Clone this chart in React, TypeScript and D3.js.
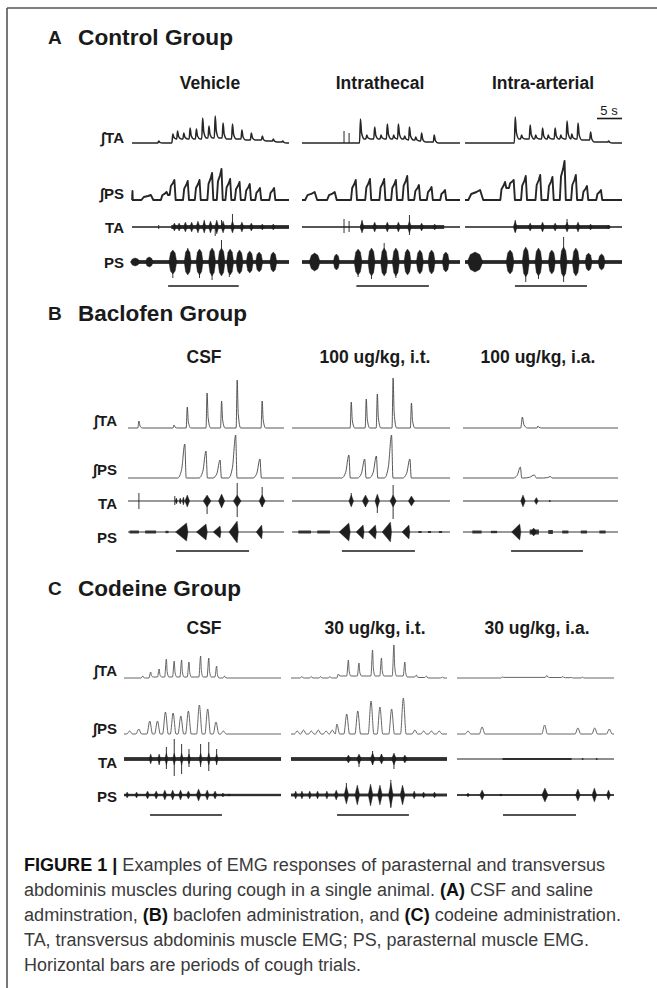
import React from 'react';
import * as d3 from 'd3';

// ---------- text content ----------
const groupLetters = ['A', 'B', 'C'];
const groupTitles = ['Control Group', 'Baclofen Group', 'Codeine Group'];
const colTitlesA = ['Vehicle', 'Intrathecal', 'Intra-arterial'];
const colTitlesB = ['CSF', '100 ug/kg, i.t.', '100 ug/kg, i.a.'];
const colTitlesC = ['CSF', '30 ug/kg, i.t.', '30 ug/kg, i.a.'];
const rowLabels = ['\u222BTA', '\u222BPS', 'TA', 'PS'];
const scaleBarLabel = '5 s';

// ---------- data (time 0..100 % of trace, amplitude in a.u.) ----------
// integrated traces: [t, peak, level after, width factor]
const A_intTA = [
  [[17,2,0],[26,9,4],[29,12,4],[33,10,4],[37,15,4],[41,14,4],[45,25,5],[49,17,5],[53,27,5],[58,20,4],[64,19,4],[70,13,3],[76,10,3],[83,7,2],[90,4,1],[96,2,0]],
  [[37,24,4],[41,8,4],[46,16,4],[50,8,4],[54,19,4],[58,8,4],[61,19,4],[65,7,3],[68,16,3],[72,6,2],[75.7,10,1],[83.7,8,0]],
  [[32,26,4],[36,8,4],[41.5,18,4],[45,8,4],[49.4,15,4],[53,8,4],[57.4,15,4],[61,8,4],[65,22,4],[68,9,4],[72,20,3],[80,11,1],[91.5,2,0]],
];
const A_intTA_spikes = [[], [[26.6,12],[29.8,10]], []];
const A_intPS = [
  [[0,9,0,0.6],[12,5,0,2],[22,8,5,1.2],[27,20,0],[35.5,19,0],[43,20,0],[51,27,0],[57,31,0],[62.5,21,0],[68.5,18,0],[75,16,0],[81.5,12,0],[90.5,12,0]],
  [[8,8,0,2],[20.7,8,0,1.6],[34,20,0],[43,21,0],[52,21,0],[59.4,20,0],[66.6,24,0],[74,15,0],[82,13,0],[90.5,10,0]],
  [[9.6,10,0,2.5],[25.5,18,12,1],[31,20,0],[38.7,24,0],[47.9,25,0],[55.7,23,0],[63.4,39,0],[70.6,25,0],[77.7,14,0],[86.6,10,0]],
];
// raw traces: bands [t0, t1, amp], bursts [t, amp, width, skew], spikes [t, value]
const A_TA_bands = [[[25,100,2]], [[37,90,2]], [[32,92,2]]];
const A_TA_bursts = [
  [[27,4],[30,4],[34,5],[38,5],[42,6],[46,6],[50,6],[54,7],[58,6],[64,6],[70,5],[76,4],[83,3],[90,3]],
  [[38,6],[46,5],[54,5],[61,5],[68,6],[75.7,4],[84,3]],
  [[32,6],[41.5,4],[49.4,5],[57.4,4],[65,5],[72,5],[80,3],[91.5,2]],
];
const A_TA_spikes = [
  [[17,2],[17,-2],[53,-9],[57,7],[64,13],[46,7]],
  [[26.6,8],[26.6,-6],[29.8,6],[29.8,-5],[68,12],[68,-8],[38,7]],
  [[32,7],[32,-5],[65,8]],
];
const A_PS_bands = [[[0,100,2]], [[0,100,2]], [[0,100,2]]];
const A_PS_bursts = [
  [[2,4,6],[11,5,5],[26,12,5],[35.5,13],[43,13],[51,14],[57,14],[62.5,13],[68.5,12],[75,11],[81,10],[90,10]],
  [[8,9,7],[21.8,8,4],[35.5,13,5],[44,14],[52,14],[59.4,14],[66.8,13],[74.6,12],[82,12],[91,10]],
  [[6.4,10,10],[28.7,12,5],[38.7,15],[46.8,14],[55.3,12],[62.8,15],[70.6,14],[78.7,9],[87,8]],
];
const A_PS_spikes = [
  [[57,22],[51,-18],[43,-16],[62,-15],[26,-16],[35.5,14]],
  [[52,19],[44,-17],[59.4,-16],[35.5,-15]],
  [[62.8,25],[62.8,-20],[38.7,-20],[46.8,-17]],
];

const B_intTA = [
  [[7,7,0],[29.5,3,0],[38,21,0],[50.7,35,0],[60,27,0],[70,48,0],[86,27,0]],
  [[37.5,26,0],[47,29,0],[54,34,0],[64,50,0],[75.6,25,0]],
  [[38.3,11,0,1.5],[48.4,2,0]],
];
const B_intPS = [
  [[36.4,34,0],[50,27,0],[59,18,0],[69,43,0],[84.6,19,0]],
  [[36,23,0],[46,19,0],[53.4,22,0],[63,43,0],[74.6,19,0]],
  [[37,11,0],[46,3,0,1.5],[56.5,1.5,0]],
];
const B_TA_bands = [[], [], []];
const B_TA_bursts = [
  [[38,6,3],[50.7,6,5],[60,7,4],[70,6,5],[86,6,4],[31,3,1.5],[33.5,3,1.5],[35.5,4,1.5]],
  [[37.5,6,3],[46.5,6,4],[54,7,3],[64,6,4],[75.6,5,4]],
  [[38.7,6,3],[47.3,3.5,2.5],[56,1,1]],
];
const B_TA_spikes = [
  [[7,8],[7,-8],[50.7,-13],[70,18],[70,-16],[86,14],[86,-6],[60,-5],[30,5],[30,-4]],
  [[37.5,8],[46.5,-6],[54,-12],[64,16],[64,-18]],
  [],
];
const B_PS_bands = [
  [[1,7,1.5],[11,18,1.5],[24,26,1.2]],
  [[4,12,1.5],[16,24,1.5],[80,82,1],[86,88,1],[93,95,1]],
  [[6,12,1.5],[18,22,1.2],[43,49,2.5],[55,58,2],[64,68,1.5],[76,80,1.5],[88,92,1.5]],
];
const B_PS_bursts = [
  [[37.5,9,8],[50,8,7],[59,6,5],[70,11,6],[85.7,7,4]],
  [[36,9,7],[45,7,5],[52.8,7,5],[62.3,10,6],[74,7,5]],
  [[36.6,8,6],[45.6,4,4,0.5]],
];
const B_PS_spikes = [[], [], []];

const C_intTA = [
  [[12,2,0],[17,6,1],[22.4,9,1],[27,19,1],[32,17,1],[36.7,18,1],[41.4,16,1],[48.8,22,1],[54,20,1],[59,12,0],[64,2,0]],
  [[7,1.5,0],[13,1.5,0],[19,1.5,0],[25,1.5,0],[30.4,4,2],[36.8,18,2],[43.6,15,2],[52.3,28,2],[58,20,2],[66,33,2],[73,16,1],[80.4,3,0.5],[86.8,2,0],[97,1,0]],
  [[29,1,0.6],[57.3,2.5,0.5],[67.5,1.5,0.3],[73,0.5,0],[80,0.8,0]],
];
const C_intPS = [
  [[3.6,3,0],[9.4,5,0],[16.4,13,0],[21.3,13,0],[26.4,22,0],[31.3,21,0],[36.2,18,0],[41,23,0],[48,29,0],[53.3,25,0],[58.6,12,0],[63.3,3,0]],
  [[4,3,0],[8,4,0],[13,3,0],[17.5,4,0],[22.5,3,0],[26.5,4,0],[29.4,10,0],[35.7,20,0],[42.8,23,0],[51.3,33,0],[57,27,0],[64.5,25,0],[72,36,0],[79.4,4,0],[85,3,0],[90,3,0],[95,3,0]],
  [[7,3,0],[16,7,0],[55.8,9,0],[77,6,0],[87.7,6,0],[97,5,0]],
];
const C_TA_bands = [[[0,100,2]], [[0,100,2]], [[29,73,1]]];
const C_TA_bursts = [
  [[17,5,2],[22.4,5,2],[27,6,2],[32,6,2],[36.7,6,2],[41.4,5,2],[48.8,6,2],[54,6,2],[59,5,2]],
  [[36.8,4,3],[43.6,5,3],[52.3,6,3],[58,5,3],[66,6,3],[73,4,3]],
  [[80,1,1],[89,1,1]],
];
const C_TA_spikes = [
  [[27,12],[27,-10],[32,20],[32,-17],[36.7,15],[36.7,-15],[41.4,10],[41.4,-8],[48.8,15],[48.8,-8],[54,17],[54,-12],[59,10],[59,-6],[22.4,-6]],
  [[43.6,-8],[52.3,8],[52.3,-6],[66,-10],[58,5]],
  [],
];
const C_PS_bands = [[[0,100,1.2]], [[0,100,1.5]], [[0,100,0.8]]];
const C_PS_bursts = [
  [[2,3,2],[8,3,2],[15,4,2.5],[20.5,4,2.5],[26,5,2.5],[31,5,2.5],[36,5,2.5],[41,4,2.5],[47.5,6,3],[53,5,2.5],[58,4,2.5],[63,2,2],[67,1,2]],
  [[3,4,2],[7,4,2],[12,4,2],[17,4,2],[23,4,2],[29,5,2.5],[35.5,9,3],[42.5,10,3],[51,11,3],[57,10,3],[64,12,3],[71.5,10,3],[79,4,2],[85,3,2],[92,3,2]],
  [[7,2,2],[16,5,3],[28,1,2],[56,7,4],[77,6,3],[87.5,7,3],[96.5,5,2.5]],
];
const C_PS_spikes = [[], [[64,15],[64,-13],[35.5,12]], []];

// cough trial bars [t0, t1]
const coughBarsA = [[23, 68], [34.4, 80.3], [31.8, 77.7]];
const coughBarsB = [[30.8, 77.6], [31.6, 77.8], [31, 77.4]];
const coughBarsC = [[16.6, 62.4], [29.5, 75.6], [29.3, 75.8]];

const captionLines = [
  [['FIGURE 1 | ', true], ['Examples of EMG responses of parasternal and transversus', false]],
  [['abdominis muscles during cough in a single animal. ', false], ['(A)', true], [' CSF and saline', false]],
  [['adminstration, ', false], ['(B)', true], [' baclofen administration, and ', false], ['(C)', true], [' codeine administration.', false]],
  [['TA, transversus abdominis muscle EMG; PS, parasternal muscle EMG.', false]],
  [['Horizontal bars are periods of cough trials.', false]],
];

// ---------- layout ----------
const W = 657, H = 988;
const FONT = "'Liberation Sans', Arial, Helvetica, sans-serif";
const NARROW = "'Liberation Sans Narrow', 'Liberation Sans', Arial, sans-serif";

const panels = [
  {
    titleY: 37, titleLen: 155, colTitleY: 83, colTitles: colTitlesA, colCenters: [210, 380, 543],
    labelRight: 124, labelYs: [137, 193, 227, 262], bases: [143, 200, 227, 262],
    cols: [[132, 289], [302, 460], [465, 622]], barY: 286, bars: coughBarsA,
    intTA: A_intTA, intTASp: A_intTA_spikes, intPS: A_intPS,
    TA: [A_TA_bands, A_TA_bursts, A_TA_spikes], PS: [A_PS_bands, A_PS_bursts, A_PS_spikes],
    st: { intColor: '#262626', intW: 1.5, psIntW: 1.9, rawColor: '#1e1e1e', baseW: 1.3, taW: 2.5, psW: 4.5, psSkew: 0.5,
      psShape: 'blob', taRise: 0.6, taFall: 2.4, taMode: 'spike', psRise: 3.0, psFall: 0.8, psMode: 'hump' },
  },
  {
    titleY: 313, titleLen: 169, colTitleY: 357, colTitles: colTitlesB, colCenters: [204, 375, 538],
    labelRight: 117, labelYs: [420, 469, 503, 537], bases: [428, 478, 501, 532],
    cols: [[128, 284], [292, 450], [463, 618]], barY: 551, bars: coughBarsB,
    intTA: B_intTA, intTASp: [[], [], []], intPS: B_intPS,
    TA: [B_TA_bands, B_TA_bursts, B_TA_spikes], PS: [B_PS_bands, B_PS_bursts, B_PS_spikes],
    st: { intColor: '#444', intW: 0.9, psIntW: 0.9, rawColor: '#1e1e1e', baseW: 0.9, taW: 3, psW: 6, psSkew: 0.88,
      psShape: 'diamond', taRise: 0.7, taFall: 2.2, taMode: 'spike', psRise: 4.5, psFall: 0.9, psMode: 'ramp' },
  },
  {
    titleY: 588, titleLen: 163, colTitleY: 628, colTitles: colTitlesC, colCenters: [204, 375, 537],
    labelRight: 117, labelYs: [670, 728, 762, 796], bases: [678, 734, 759, 795],
    cols: [[124, 281], [291, 447], [457, 614]], barY: 815, bars: coughBarsC,
    intTA: C_intTA, intTASp: [[], [], []], intPS: C_intPS,
    TA: [C_TA_bands, C_TA_bursts, C_TA_spikes], PS: [C_PS_bands, C_PS_bursts, C_PS_spikes],
    st: { intColor: '#555', intW: 0.9, psIntW: 0.9, rawColor: '#1e1e1e', baseW: 1, taW: 2, psW: 2.5, psSkew: 0.5,
      psShape: 'diamond', taRise: 1.1, taFall: 1.6, taMode: 'spike', psRise: 1.8, psFall: 1.8, psMode: 'line' },
  },
];

function buildIntPoints(peaks: number[][], rise: number, fall: number, mode: string) {
  const pts: [number, number][] = [[0, 0]];
  let pb = 0;
  const add = (t: number, v: number) => {
    const lt = pts[pts.length - 1][0];
    const tt = Math.min(100, Math.max(t, lt + 0.08));
    if (tt <= lt) return;
    pts.push([tt, v]);
  };
  for (const p of peaks) {
    const [t, h, b = 0, ws = 1] = p;
    if (mode === 'ramp') {
      add(t - rise * ws, pb);
      add(t - rise * ws * 0.45, pb + (h - pb) * 0.25);
      add(t, h);
      add(t + fall * ws, b);
    } else if (mode === 'hump') {
      add(t - rise * ws, pb);
      add(t - rise * ws * 0.75, pb + (h - pb) * 0.6);
      add(t - rise * ws * 0.3, pb + (h - pb) * 0.8);
      add(t, h);
      add(t + fall * ws, b);
    } else if (mode === 'spike') {
      add(t - rise * ws, pb);
      add(t, h);
      add(t + fall * ws * 0.3, b + (h - b) * 0.3);
      add(t + fall * ws, b);
    } else {
      add(t - rise * ws, pb);
      add(t, h);
      add(t + fall * ws, b);
    }
    pb = b;
  }
  add(100, pb);
  return pts;
}

function IntTrace({ peaks, spikes, xr, base, rise, fall, mode, color, width }: any) {
  const xs = d3.scaleLinear().domain([0, 100]).range(xr);
  const ys = d3.scaleLinear().domain([0, 50]).range([base, base - 50]);
  const pts = buildIntPoints(peaks, rise, fall, mode);
  const line = d3.line<[number, number]>().x(d => xs(d[0])).y(d => ys(d[1]))
    .curve(mode === 'hump' ? d3.curveLinear : d3.curveMonotoneX);
  return (
    <g>
      <path d={line(pts) || ''} fill="none" stroke={color} strokeWidth={width} strokeLinejoin="round" />
      {spikes.map((s: number[], i: number) => (
        <line key={i} x1={xs(s[0])} x2={xs(s[0])} y1={ys(0)} y2={ys(s[1])} stroke={color} strokeWidth={Math.min(width, 1)} />
      ))}
    </g>
  );
}

function RawTrace({ bands, bursts, spikes, xr, base, defW, defSkew, shape, color, baseW }: any) {
  const xs = d3.scaleLinear().domain([0, 100]).range(xr);
  const ys = d3.scaleLinear().domain([-50, 50]).range([base + 50, base - 50]);
  const poly = d3.line<[number, number]>().x(d => xs(d[0])).y(d => ys(d[1]));
  return (
    <g>
      <line x1={xs(0)} x2={xs(100)} y1={ys(0)} y2={ys(0)} stroke={color} strokeWidth={baseW} />
      {bands.map((b: number[], i: number) => (
        <rect key={'b' + i} x={xs(b[0])} width={xs(b[1]) - xs(b[0])} y={ys(b[2])} height={ys(-b[2]) - ys(b[2])} fill={color} opacity={0.85} />
      ))}
      {bursts.map((b: number[], i: number) => {
        const [t, a, w = defW, sk = defSkew] = b;
        const l = t - sk * w, r = t + (1 - sk) * w;
        const pts: [number, number][] = shape === 'blob'
          ? [[l, 0], [l + 0.2 * w, a * 0.75], [t, a], [r - 0.2 * w, a * 0.75], [r, 0], [r - 0.2 * w, -a * 0.75], [t, -a], [l + 0.2 * w, -a * 0.75], [l, 0]]
          : [[l, 0], [t, a], [r, 0], [t, -a], [l, 0]];
        return <path key={'u' + i} d={(poly(pts) || '') + 'Z'} fill={color} stroke={color} strokeWidth={0.4} />;
      })}
      {spikes.map((s: number[], i: number) => (
        <line key={'s' + i} x1={xs(s[0])} x2={xs(s[0])} y1={ys(0)} y2={ys(s[1])} stroke={color} strokeWidth={0.9} />
      ))}
    </g>
  );
}

export default function App() {
  const capX = 24;
  const capBase = [871, 896, 921, 946, 971];
  const capLen = [581, 569, 597, 565, 337];
  return (
    <svg width={W} height={H} viewBox={`0 0 ${W} ${H}`} style={{ position: 'absolute', left: 0, top: 0, background: '#fff' }}>
      <rect x={0} y={0} width={W} height={H} fill="#fff" />
      <line x1={7} x2={W} y1={8} y2={8} stroke="#555" strokeWidth={1.6} />
      <line x1={7} x2={7} y1={8} y2={H} stroke="#555" strokeWidth={1.6} />
      {panels.map((p, pi) => (
        <g key={pi}>
          <text x={48} y={p.titleY} dominantBaseline="central" fontFamily={FONT} fontWeight="bold" fontSize={19} fill="#1a1a1a">{groupLetters[pi]}</text>
          <text x={78} y={p.titleY} dominantBaseline="central" fontFamily={FONT} fontWeight="bold" fontSize={22} fill="#1a1a1a"
            textLength={p.titleLen} lengthAdjust="spacingAndGlyphs">{groupTitles[pi]}</text>
          {p.colTitles.map((t, ci) => (
            <text key={ci} x={p.colCenters[ci]} y={p.colTitleY} dominantBaseline="central" textAnchor="middle"
              fontFamily={FONT} fontWeight="bold" fontSize={17.5} fill="#1a1a1a">{t}</text>
          ))}
          {rowLabels.map((l, ri) => (
            <text key={ri} x={p.labelRight} y={p.labelYs[ri]} dominantBaseline="central" textAnchor="end"
              fontFamily={FONT} fontWeight="bold" fontSize={15} fill="#1a1a1a">{l}</text>
          ))}
          {p.cols.map((xr, ci) => (
            <g key={ci}>
              <IntTrace peaks={p.intTA[ci]} spikes={p.intTASp[ci]} xr={xr} base={p.bases[0]}
                rise={p.st.taRise} fall={p.st.taFall} mode={p.st.taMode} color={p.st.intColor} width={p.st.intW} />
              <IntTrace peaks={p.intPS[ci]} spikes={[]} xr={xr} base={p.bases[1]}
                rise={p.st.psRise} fall={p.st.psFall} mode={p.st.psMode} color={p.st.intColor} width={p.st.psIntW} />
              <RawTrace bands={p.TA[0][ci]} bursts={p.TA[1][ci]} spikes={p.TA[2][ci]} xr={xr} base={p.bases[2]}
                defW={p.st.taW} defSkew={0.5} shape="diamond" color={p.st.rawColor} baseW={p.st.baseW} />
              <RawTrace bands={p.PS[0][ci]} bursts={p.PS[1][ci]} spikes={p.PS[2][ci]} xr={xr} base={p.bases[3]}
                defW={p.st.psW} defSkew={p.st.psSkew} shape={p.st.psShape} color={p.st.rawColor} baseW={p.st.baseW} />
              {(() => {
                const xs = d3.scaleLinear().domain([0, 100]).range(xr);
                const b = p.bars[ci];
                return <line x1={xs(b[0])} x2={xs(b[1])} y1={p.barY} y2={p.barY} stroke="#1a1a1a" strokeWidth={1.6} />;
              })()}
            </g>
          ))}
        </g>
      ))}
      <text x={609} y={110} dominantBaseline="central" textAnchor="middle" fontFamily={FONT} fontSize={13} fill="#1a1a1a">{scaleBarLabel}</text>
      <line x1={597} x2={622} y1={118.5} y2={118.5} stroke="#1a1a1a" strokeWidth={1.6} />
      {captionLines.map((line, li) => (
        <text key={li} x={capX} y={capBase[li]} fontFamily={NARROW} fontSize={18} fill="#3a3a3a"
          textLength={capLen[li]} lengthAdjust="spacingAndGlyphs">
          {line.map((seg: any, si: number) => (
            <tspan key={si} fontWeight={seg[1] ? 'bold' : 'normal'} fill={seg[1] ? '#111' : '#3a3a3a'}>{seg[0]}</tspan>
          ))}
        </text>
      ))}
    </svg>
  );
}
